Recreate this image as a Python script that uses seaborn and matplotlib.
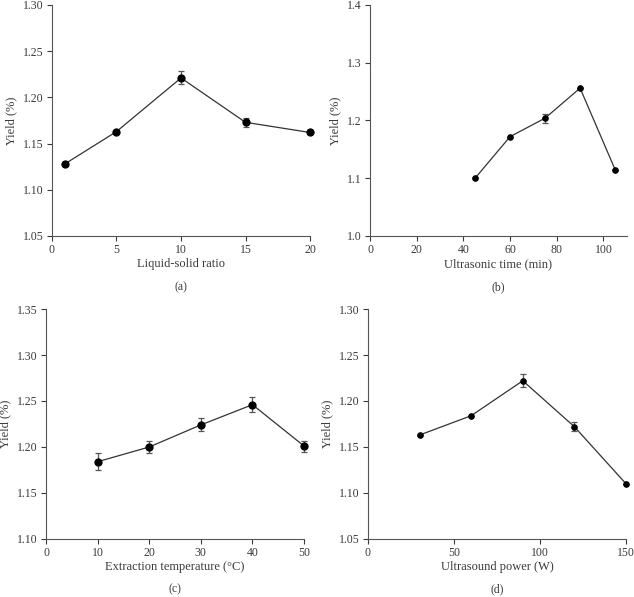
import matplotlib
matplotlib.use("Agg")
import matplotlib.pyplot as plt
import seaborn as sns
import pandas as pd

# panel (a) liquid-solid ratio
ratio_x = [1, 5, 10, 15, 20]
ratio_y = [1.128, 1.163, 1.221, 1.173, 1.162]
ratio_err = [0.0, 0.0, 0.007, 0.005, 0.0]

# panel (b) ultrasonic time
time_x = [45, 60, 75, 90, 105]
time_y = [1.100, 1.172, 1.204, 1.256, 1.115]
time_err = [0.0, 0.0, 0.008, 0.0, 0.0]

# panel (c) extraction temperature
temp_x = [10, 20, 30, 40, 50]
temp_y = [1.184, 1.200, 1.224, 1.246, 1.201]
temp_err = [0.009, 0.006, 0.007, 0.008, 0.006]

# panel (d) ultrasound power
power_x = [30, 60, 90, 120, 150]
power_y = [1.163, 1.184, 1.222, 1.172, 1.110]
power_err = [0.0, 0.0, 0.007, 0.005, 0.0]

sns.set_theme(style="ticks")
plt.rcParams["font.family"] = ["Liberation Serif", "DejaVu Serif"]

TXT = "#3a3a3a"
fig = plt.figure(figsize=(6.34, 5.97), dpi=100)

panels = [
    dict(x=ratio_x, y=ratio_y, err=ratio_err, pos=[0.082, 0.6047, 0.407, 0.387],
         xlim=(0, 20), xticks=[0, 5, 10, 15, 20], ylim=(1.05, 1.30),
         yticks=[1.05, 1.10, 1.15, 1.20, 1.25, 1.30], yfmt="{:.2f}",
         xlabel="Liquid-solid ratio", tag="(a)", ms=5.2),
    dict(x=time_x, y=time_y, err=time_err, pos=[0.5836, 0.6047, 0.405, 0.387],
         xlim=(0, 110), xticks=[0, 20, 40, 60, 80, 100], ylim=(1.0, 1.4),
         yticks=[1.0, 1.1, 1.2, 1.3, 1.4], yfmt="{:.1f}",
         xlabel="Ultrasonic time (min)", tag="(b)", ms=4),
    dict(x=temp_x, y=temp_y, err=temp_err, pos=[0.0726, 0.0972, 0.407, 0.3852],
         xlim=(0, 50), xticks=[0, 10, 20, 30, 40, 50], ylim=(1.10, 1.35),
         yticks=[1.10, 1.15, 1.20, 1.25, 1.30, 1.35], yfmt="{:.2f}",
         xlabel="Extraction temperature (°C)", tag="(c)", ms=5.2),
    dict(x=power_x, y=power_y, err=power_err, pos=[0.5804, 0.0972, 0.407, 0.3852],
         xlim=(0, 150), xticks=[0, 50, 100, 150], ylim=(1.05, 1.30),
         yticks=[1.05, 1.10, 1.15, 1.20, 1.25, 1.30], yfmt="{:.2f}",
         xlabel="Ultrasound power (W)", tag="(d)", ms=4),
]

for p in panels:
    ax = fig.add_axes(p["pos"])
    df = pd.DataFrame({"x": p["x"], "y": p["y"]})
    ax.errorbar(p["x"], p["y"], yerr=p["err"], fmt="none", ecolor="#555555",
                elinewidth=0.9, capsize=2.5, capthick=0.9, zorder=2, clip_on=False)
    sns.lineplot(data=df, x="x", y="y", ax=ax, color="#333333", linewidth=0.9,
                 marker="o", markersize=p["ms"], markerfacecolor="black",
                 markeredgecolor="black", zorder=3, clip_on=False)
    ax.set_xlim(*p["xlim"])
    ax.set_ylim(*p["ylim"])
    ax.set_xticks(p["xticks"])
    ax.set_yticks(p["yticks"])
    ax.set_yticklabels([p["yfmt"].format(v) for v in p["yticks"]])
    ax.set_xlabel(p["xlabel"], fontsize=9, color=TXT, labelpad=1.5)
    ax.set_ylabel("Yield (%)", fontsize=9, color=TXT, labelpad=4)
    ax.tick_params(labelsize=8.5, colors=TXT, length=3.5, width=0.8, pad=2.5)
    for s in ["top", "right"]:
        ax.spines[s].set_visible(False)
    for s in ["left", "bottom"]:
        ax.spines[s].set_color("#555555")
        ax.spines[s].set_linewidth(0.8)
    ax.text(0.5, -0.22, p["tag"], transform=ax.transAxes, ha="center",
            va="center", fontsize=8.5, color=TXT)

fig.savefig("out.png", dpi=100)
